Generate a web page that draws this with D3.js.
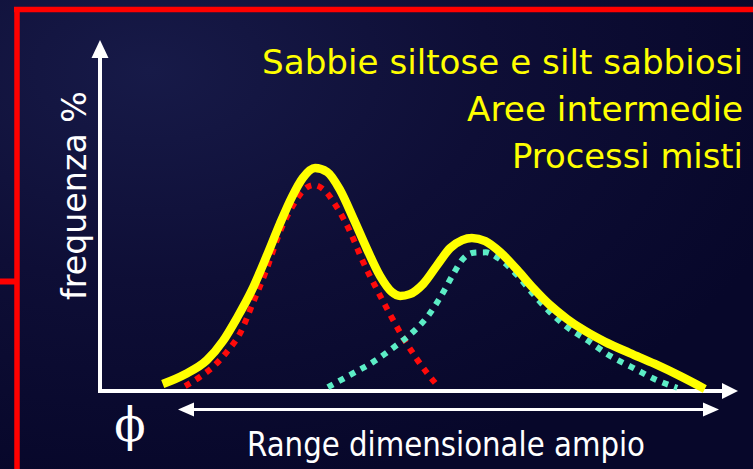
<!DOCTYPE html>
<html>
<head>
<meta charset="utf-8">
<script src="https://cdn.jsdelivr.net/npm/d3@7/dist/d3.min.js"></script>
<style>
  html, body { margin: 0; padding: 0; background: #0c0c30; overflow: hidden; }
  svg { display: block; }
</style>
</head>
<body>
<svg id="chart" width="753" height="469"></svg>
<script>
// ---- data (x: grain size position 0-100, y: frequency % 0-100) ----
const totalX = [9.8, 13.3, 16.7, 19.2, 21.4, 23.75, 26.1, 28.1, 30.0, 31.7, 33.6, 35.5, 37.5, 39.7, 41.7, 43.75, 45.6, 46.9, 48.4, 50.5, 52.7, 54.7, 56.6, 58.1, 60.2, 62.5, 65.2, 67.7, 70.3, 73.0, 75.8, 78.9, 82.8, 86.7, 90.6, 94.5];
const totalY = [2.0, 4.8, 8.8, 14.2, 20.8, 28.8, 38.7, 47.6, 55.3, 60.7, 63.5, 62.4, 57.3, 48.7, 40.5, 32.8, 28.2, 27.1, 27.6, 30.5, 35.9, 40.7, 43.0, 43.6, 42.7, 39.6, 34.5, 29.3, 24.5, 20.5, 17.1, 14.0, 10.8, 7.7, 4.3, 0.6];

const fineX = [13.3, 15.6, 17.8, 19.8, 21.9, 23.9, 26.1, 28.1, 30.2, 31.7, 33.4, 35.0, 37.0, 39.1, 41.1, 43.3, 45.3, 47.3, 49.4, 51.25, 52.8];
const fineY = [1.4, 4.0, 7.1, 11.1, 16.5, 25.1, 35.0, 45.3, 53.0, 57.0, 58.7, 57.3, 52.4, 45.3, 36.8, 28.8, 21.9, 15.4, 9.4, 4.8, 1.4];

const coarseX = [35.6, 39.1, 42.7, 45.8, 48.9, 51.25, 53.3, 55.2, 56.7, 58.4, 60.3, 62.2, 65.2, 67.7, 70.3, 73.0, 76.1, 79.7, 83.3, 87.0, 90.2];
const coarseY = [1.1, 4.6, 8.3, 12.3, 16.8, 21.4, 27.1, 33.3, 37.6, 39.4, 39.5, 37.9, 33.0, 27.6, 22.5, 18.2, 14.5, 10.0, 6.6, 3.1, 0.9];

const titleLines = ["Sabbie siltose e silt sabbiosi", "Aree intermedie", "Processi misti"];
const yLabel = "frequenza %";
const xLabel = "Range dimensionale ampio";
const phiLabel = "\u03D5";

// ---- setup ----
const W = 753, H = 469;
const svg = d3.select("#chart");
const defs = svg.append("defs");

const bg = defs.append("radialGradient").attr("id", "bg")
  .attr("cx", "0.2").attr("cy", "0.15").attr("r", "0.9");
bg.append("stop").attr("offset", "0").attr("stop-color", "#171a48");
bg.append("stop").attr("offset", "0.5").attr("stop-color", "#0e0e36");
bg.append("stop").attr("offset", "1").attr("stop-color", "#07072a");
svg.append("rect").attr("width", W).attr("height", H).attr("fill", "url(#bg)");

// red frame
const red = "#ff0000";
svg.append("line").attr("x1", 14).attr("x2", W).attr("y1", 9.5).attr("y2", 9.5)
  .attr("stroke", red).attr("stroke-width", 5.5);
svg.append("line").attr("x1", 17).attr("x2", 17).attr("y1", 7).attr("y2", H)
  .attr("stroke", red).attr("stroke-width", 5.5);
svg.append("line").attr("x1", 0).attr("x2", 17).attr("y1", 281.5).attr("y2", 281.5)
  .attr("stroke", red).attr("stroke-width", 6);

// scales
const x = d3.scaleLinear().domain([0, 100]).range([100, 740]);
const y = d3.scaleLinear().domain([0, 100]).range([391, 40]);

// axes (arrows)
const white = "#ffffff";
svg.append("line").attr("x1", x(0)).attr("x2", x(0)).attr("y1", y(0) + 2).attr("y2", 56)
  .attr("stroke", white).attr("stroke-width", 4);
svg.append("path").attr("d", `M${x(0)},${y(100)} L${x(0) - 8.5},58 L${x(0) + 8.5},58 Z`).attr("fill", white);
svg.append("line").attr("x1", x(0) - 2).attr("x2", 724).attr("y1", y(0)).attr("y2", y(0))
  .attr("stroke", white).attr("stroke-width", 4);
svg.append("path").attr("d", `M${x(100) - 2},${y(0)} L722,${y(0) - 8} L722,${y(0) + 8} Z`).attr("fill", white);

// double arrow
const da = 409.5;
svg.append("line").attr("x1", 188).attr("x2", 708).attr("y1", da).attr("y2", da)
  .attr("stroke", white).attr("stroke-width", 3);
svg.append("path").attr("d", `M178,${da} L194,${da - 7} L194,${da + 7} Z`).attr("fill", white);
svg.append("path").attr("d", `M719,${da} L703,${da - 7} L703,${da + 7} Z`).attr("fill", white);

// curves
const line = d3.line().x(d => x(d[0])).y(d => y(d[1])).curve(d3.curveMonotoneX);
svg.append("path").datum(d3.zip(fineX, fineY)).attr("d", line)
  .attr("fill", "none").attr("stroke", "#ff0a0a").attr("stroke-width", 6)
  .attr("stroke-dasharray", "6,6.5");
svg.append("path").datum(d3.zip(coarseX, coarseY)).attr("d", line)
  .attr("fill", "none").attr("stroke", "#5cedc6").attr("stroke-width", 6)
  .attr("stroke-dasharray", "6,6.5");
svg.append("path").datum(d3.zip(totalX, totalY)).attr("d", line)
  .attr("fill", "none").attr("stroke", "#ffff00").attr("stroke-width", 8.5)
  .attr("stroke-linejoin", "round");

// text
const font = "'DejaVu Sans', Verdana, sans-serif";
const titleBase = [74, 121, 168];
const titleLen = [481, 276, 231];
titleLines.forEach((t, i) => {
  svg.append("text").attr("x", 743).attr("y", titleBase[i])
    .attr("text-anchor", "end").attr("fill", "#ffff00")
    .attr("font-family", font).attr("font-size", 33)
    .attr("textLength", titleLen[i]).attr("lengthAdjust", "spacingAndGlyphs")
    .text(t);
});

svg.append("text").attr("transform", "translate(86,300) rotate(-90)")
  .attr("fill", white).attr("font-family", font).attr("font-size", 34)
  .attr("textLength", 209).attr("lengthAdjust", "spacingAndGlyphs")
  .text(yLabel);

svg.append("text").attr("x", 247).attr("y", 456)
  .attr("fill", white).attr("font-family", font).attr("font-size", 33)
  .attr("textLength", 398).attr("lengthAdjust", "spacingAndGlyphs")
  .text(xLabel);

svg.append("text").attr("x", 130).attr("y", 441).attr("text-anchor", "middle")
  .attr("fill", white).attr("font-family", "'DejaVu Serif', 'Liberation Serif', serif").attr("font-size", 46)
  .text(phiLabel);
</script>
</body>
</html>
